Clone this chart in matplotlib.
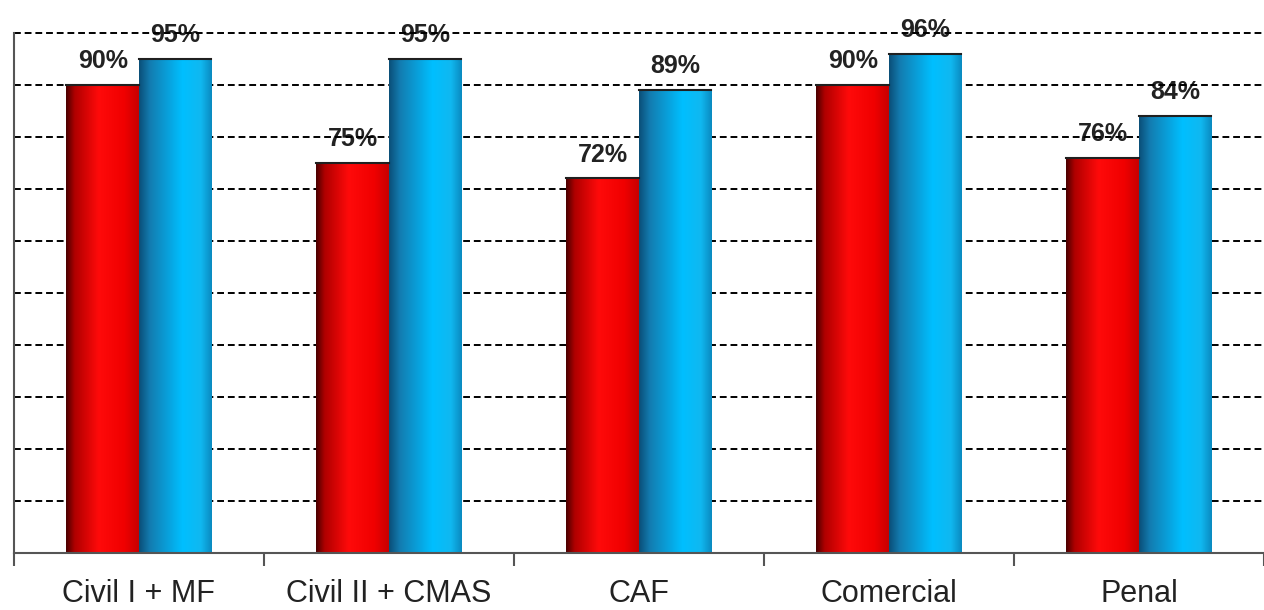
import numpy as np
import matplotlib.pyplot as plt
from matplotlib.colors import LinearSegmentedColormap

categories = ['Civil I + MF', 'Civil II + CMAS', 'CAF', 'Comercial', 'Penal']
red_vals = [90, 75, 72, 90, 76]
blue_vals = [95, 95, 89, 96, 84]

red_cmap = LinearSegmentedColormap.from_list(
    'redgrad', [(0.0, '#4a0000'), (0.12, '#b00000'), (0.45, '#ff0a0a'), (0.8, '#f00000'), (1.0, '#c80000')])
blue_cmap = LinearSegmentedColormap.from_list(
    'bluegrad', [(0.0, '#0b4f78'), (0.15, '#137cb0'), (0.6, '#00bfff'), (0.85, '#10b8f0'), (1.0, '#0a8ac0')])

fig = plt.figure(figsize=(12.64, 6.10), dpi=100)
ax = fig.add_axes([0.011, 0.094, 0.989, 0.852])

x = np.arange(len(categories))
w = 0.29
red_bars = ax.bar(x - w / 2, red_vals, w, color='none', edgecolor='none', zorder=3)
blue_bars = ax.bar(x + w / 2, blue_vals, w, color='none', edgecolor='none', zorder=3)

# gradient fill clipped to each bar
grad = np.linspace(0, 1, 256).reshape(1, -1)
for bars, cmap in ((red_bars, red_cmap), (blue_bars, blue_cmap)):
    for b in bars:
        x0, y0 = b.get_x(), b.get_y()
        bw, bh = b.get_width(), b.get_height()
        im = ax.imshow(grad, cmap=cmap, aspect='auto', extent=[x0, x0 + bw, y0, y0 + bh], zorder=3)
        im.set_clip_path(b)
        ax.plot([x0, x0 + bw], [y0 + bh, y0 + bh], color='#202020', lw=1.5, zorder=4)

# value labels sit under the dashed grid, like the original
for bars, vals in ((red_bars, red_vals), (blue_bars, blue_vals)):
    for b, v in zip(bars, vals):
        ax.annotate(f'{v}%', xy=(b.get_x() + b.get_width() / 2, v),
                    xytext=(0, 17), textcoords='offset points', ha='center', va='center',
                    fontsize=18, fontweight='bold', family='Liberation Sans', color='#222222', zorder=2)

ax.set_xlim(-0.5, len(categories) - 0.5)
ax.set_ylim(0, 100)
ax.set_axisbelow(False)
ax.xaxis.set_zorder(2.5)
ax.yaxis.set_zorder(2.5)
ax.set_yticks(np.arange(10, 101, 10))
ax.yaxis.grid(True, linestyle=(0, (3.5, 2)), color='black', linewidth=1.4)
for gl in ax.get_ygridlines():
    gl.set_clip_on(False)
ax.tick_params(axis='y', length=0, labelleft=False)

ax.set_xticks(x)
ax.set_xticklabels(categories, fontsize=22, family='Liberation Sans', color='#222222')
ax.set_xticks(np.arange(-0.5, len(categories), 1), minor=True)
ax.tick_params(axis='x', which='major', length=0, pad=19)
ax.tick_params(axis='x', which='minor', length=9, width=1.5, color='#555555')

for s in ('top', 'right'):
    ax.spines[s].set_visible(False)
for s in ('left', 'bottom'):
    ax.spines[s].set_color('#555555')
    ax.spines[s].set_linewidth(1.5)
    ax.spines[s].set_zorder(4)

fig.savefig('out.png', dpi=100)
